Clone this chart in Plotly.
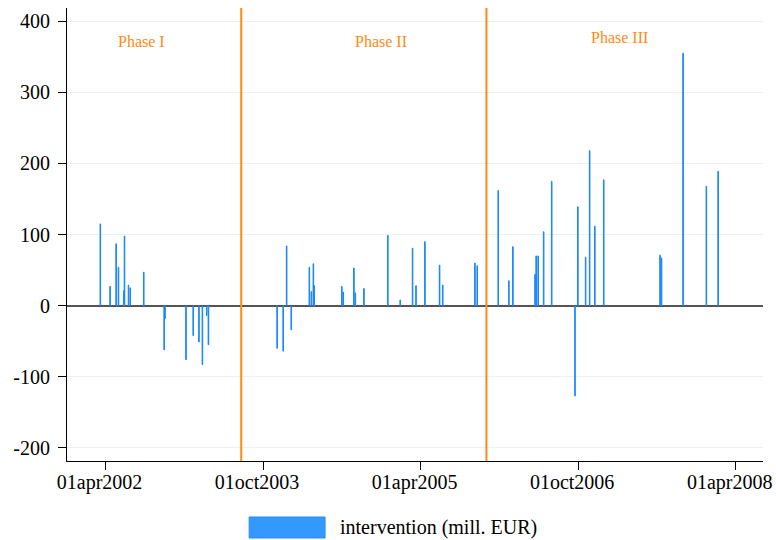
import plotly.graph_objects as go

# Daily interventions (million EUR)
dates = [
    "2002-03-14", "2002-04-17", "2002-05-08", "2002-05-16", "2002-06-04", "2002-06-06",
    "2002-06-20", "2002-06-26", "2002-08-12", "2002-10-22", "2002-10-25", "2003-01-06",
    "2003-01-31", "2003-02-20", "2003-03-04", "2003-03-19", "2003-03-25",
    "2003-11-19", "2003-12-10", "2003-12-22", "2004-01-07", "2004-03-10", "2004-03-17",
    "2004-03-24", "2004-03-27", "2004-07-01", "2004-07-06", "2004-08-12", "2004-08-17",
    "2004-09-16", "2004-12-08", "2005-01-20", "2005-03-04", "2005-03-16", "2005-04-16",
    "2005-06-06", "2005-06-17", "2005-10-07", "2005-10-15",
    "2005-12-27", "2006-02-02", "2006-02-16", "2006-05-04", "2006-05-08", "2006-05-15",
    "2006-06-03", "2006-07-01", "2006-09-20", "2006-09-30", "2006-10-27", "2006-11-10",
    "2006-11-28", "2006-12-29", "2007-07-13", "2007-07-18", "2007-10-01", "2007-12-21",
    "2008-01-31",
]
values = [
    115, 27, 87, 54, 21, 98,
    29, 25, 47, -62, -18, -76,
    -42, -51, -83, -14, -55,
    -60, -64, 84, -34, 54, 20,
    59, 28, 27, 19, 53, 18,
    24, 99, 8, 81, 28, 90,
    57, 29, 60, 56,
    162, 35, 83, 44, 70, 70,
    104, 175, -127, 139, 68, 218,
    112, 177, 71, 67, 355, 168,
    189,
]

# Phase boundaries and labels
phase_bounds = ["2003-07-17", "2005-11-16"]
phase_names = ["Phase I", "Phase II", "Phase III"]
phase_label_x = ["2002-08-05", "2004-11-13", "2007-02-21"]
phase_label_y = [371, 371, 377]

# Axis ticks
x_tick_dates = ["2002-04-01", "2003-10-01", "2005-04-01", "2006-10-01", "2008-04-01"]
x_tick_text = ["01apr2002", "01oct2003", "01apr2005", "01oct2006", "01apr2008"]
y_tick_vals = [-200, -100, 0, 100, 200, 300, 400]
y_tick_text = ["-200", "-100", "0", "100", "200", "300", "400"]

series_name = "intervention (mill. EUR)"

SERIF = "Times New Roman, Liberation Serif, Times, serif"
BAR_BLUE = "#1a86ff"
ORANGE = "#ff8a14"
DAY_MS = 86400000

fig = go.Figure()
fig.add_trace(go.Bar(
    x=dates,
    y=values,
    width=[2 * DAY_MS] * len(dates),
    marker=dict(color=BAR_BLUE, line=dict(color=BAR_BLUE, width=1)),
    name=series_name,
    showlegend=False,
))

for d in phase_bounds:
    fig.add_vline(x=d, line=dict(color=ORANGE, width=2))

for name, xd, yv in zip(phase_names, phase_label_x, phase_label_y):
    fig.add_annotation(x=xd, y=yv, text=name, showarrow=False,
                       font=dict(family=SERIF, size=16, color=ORANGE))

# Legend key drawn below the plot
fig.add_shape(type="rect", xref="paper", yref="paper",
              x0=0.2617, x1=0.3708, y0=-0.1236, y1=-0.170,
              fillcolor="#3399ff", line=dict(color="#2a8cf5", width=1))
fig.add_annotation(xref="paper", yref="paper", x=0.3895, y=-0.1468,
                   xanchor="left", yanchor="middle", text=series_name,
                   showarrow=False, font=dict(family=SERIF, size=20, color="black"))

fig.update_layout(
    width=776, height=540,
    margin=dict(l=67, r=13, t=8, b=79),
    paper_bgcolor="white", plot_bgcolor="white",
    font=dict(family=SERIF, size=20, color="black"),
    bargap=0.2,
    xaxis=dict(
        type="date",
        range=["2001-11-18", "2008-07-05"],
        automargin=False,
        showgrid=False, zeroline=False,
        showline=True, linecolor="black", linewidth=1,
        ticks="outside", ticklen=8, tickcolor="black", tickwidth=1,
        tickvals=x_tick_dates, ticktext=x_tick_text,
        tickfont=dict(family=SERIF, size=20, color="black"),
        ticklabelshift=-6,
        ticklabelstandoff=-5,
        ticklabeloverflow="allow",
    ),
    yaxis=dict(
        range=[-218.5, 418.7],
        automargin=False,
        showgrid=True, gridcolor="#eaf0f3", gridwidth=1,
        zeroline=True, zerolinecolor="#555555", zerolinewidth=1.5,
        showline=True, linecolor="black", linewidth=1,
        ticks="outside", ticklen=8, tickcolor="black", tickwidth=1,
        tickvals=y_tick_vals, ticktext=y_tick_text,
        tickfont=dict(family=SERIF, size=20, color="black"),
        ticklabelstandoff=4,
    ),
)

fig.write_html("out.html")
